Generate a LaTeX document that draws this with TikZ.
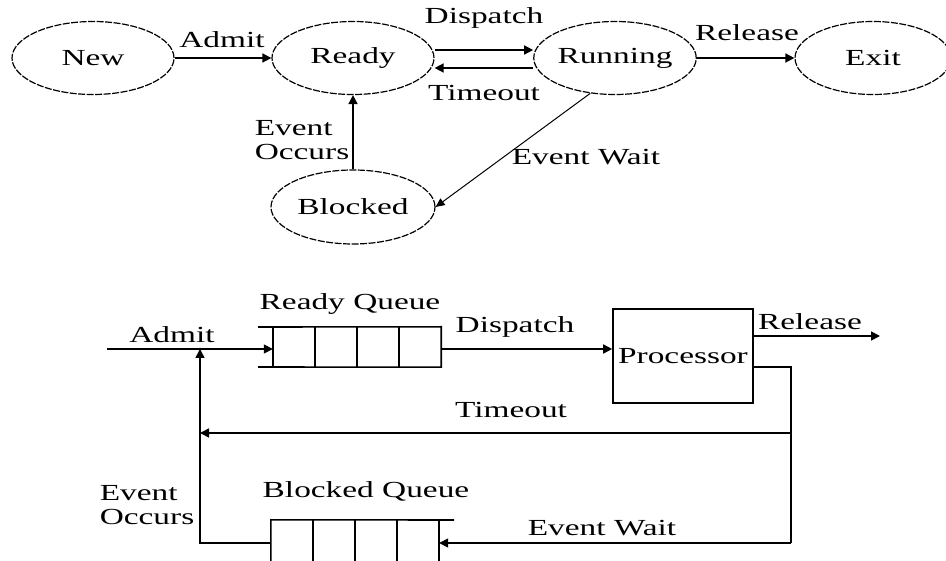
\documentclass[tikz,border=0pt]{standalone}
\usepackage{fontspec}
\setmainfont{Liberation Serif}[FakeStretch=1.45]
\usetikzlibrary{shapes.geometric,arrows.meta,calc}
\begin{document}
\begin{tikzpicture}[x=1pt,y=-1pt,
  every node/.style={font=\fontsize{23}{24}\selectfont},
  st/.style={draw,ellipse,dash pattern=on 7pt off 1.5pt,line width=1.2pt,inner sep=0pt,minimum width=162pt,minimum height=73pt},
  ln/.style={line width=1.6pt},
  arr/.style={line width=1.6pt,-{Triangle[length=9pt,width=9pt]}},
  thin arr/.style={line width=1pt,-{Triangle[length=9pt,width=8pt]}},
  lbl/.style={inner sep=0pt},
  box/.style={draw,line width=1.6pt,minimum width=140pt,minimum height=94pt,inner sep=0pt}]
\useasboundingbox[fill=white] (0,0) rectangle (946,561);
% ---------- state diagram ----------
\node[st] (new) at (93,58) {New};
\node[st] (ready) at (353,58) {Ready};
\node[st] (run) at (615,58) {Running};
\node[st,minimum width=156pt] (exit) at (873,58) {Exit};
\node[st,minimum width=164pt,minimum height=74pt] (blk) at (353,207) {Blocked};
\draw[arr] (new) -- (ready);
\draw[arr] ([yshift=8pt]ready.east) -- ([yshift=8pt]run.west);
\draw[arr] ([yshift=-10pt]run.west) -- ([yshift=-10pt]ready.east);
\draw[arr] (run) -- (exit);
\draw[arr] (blk.north) -- (ready.south);
\draw[thin arr] (run.235) -- (blk.east);
\node[lbl] (l1) at (222,40) {Admit};
\node[lbl] (l2) at (484,18) {Dispatch};
\node[lbl] (l3) at (484,93) {Timeout};
\node[lbl] (l4) at (747,33) {Release};
\node[lbl,align=left] (l5) at (302,140) {Event\\Occurs};
\node[lbl] (l6) at (586,157) {Event Wait};
% ---------- queue diagram ----------
\node[minimum width=168pt,minimum height=40pt,inner sep=0pt] (rq) at (357,347) {};
\draw[ln] (258,327) -- (rq.north east) -- (rq.south east) -- (258,367);
\foreach \x in {273,315,357,399} \draw[ln] (\x,327) -- (\x,367);
\node[minimum width=168pt,minimum height=46pt,inner sep=0pt] (bq) at (355,543) {};
\draw[ln] (454,520) -- (bq.north west) -- (bq.south west) -- (454,566);
\foreach \x in {313,355,397,439} \draw[ln] (\x,520) -- (\x,566);
\node[box] (prc) at (683,356) {Processor};
\coordinate (ain) at (107,349);
\coordinate (jn) at (200,349);
\coordinate (rel) at (880,336);
\coordinate (fb) at (791,367);
\coordinate (tr) at (791,433);
\coordinate (tl) at (200,433);
\coordinate (br) at (791,543);
\draw[arr] (ain) -- (ain -| rq.west);
\draw[arr] (rq.east |- ain) -- (ain -| prc.west);
\draw[arr] ([yshift=20pt]prc.east) -- (rel);
\draw[ln] ([yshift=-11pt]prc.east) -- (fb) -- (br);
\draw[arr] (tr) -- (tl);
\draw[arr] (br) -- (br -| bq.east);
\draw[arr] (bq.west) -| (jn);
\node[lbl] (q1) at (350,304) {Ready Queue};
\node[lbl] (q2) at (172,335) {Admit};
\node[lbl] (q3) at (515,327) {Dispatch};
\node[lbl] (q4) at (810,322) {Release};
\node[lbl] (q5) at (511,410) {Timeout};
\node[lbl,align=left] (q6) at (147,505) {Event\\Occurs};
\node[lbl] (q7) at (366,491) {Blocked Queue};
\node[lbl] (q8) at (602,528) {Event Wait};
\end{tikzpicture}
\end{document}
